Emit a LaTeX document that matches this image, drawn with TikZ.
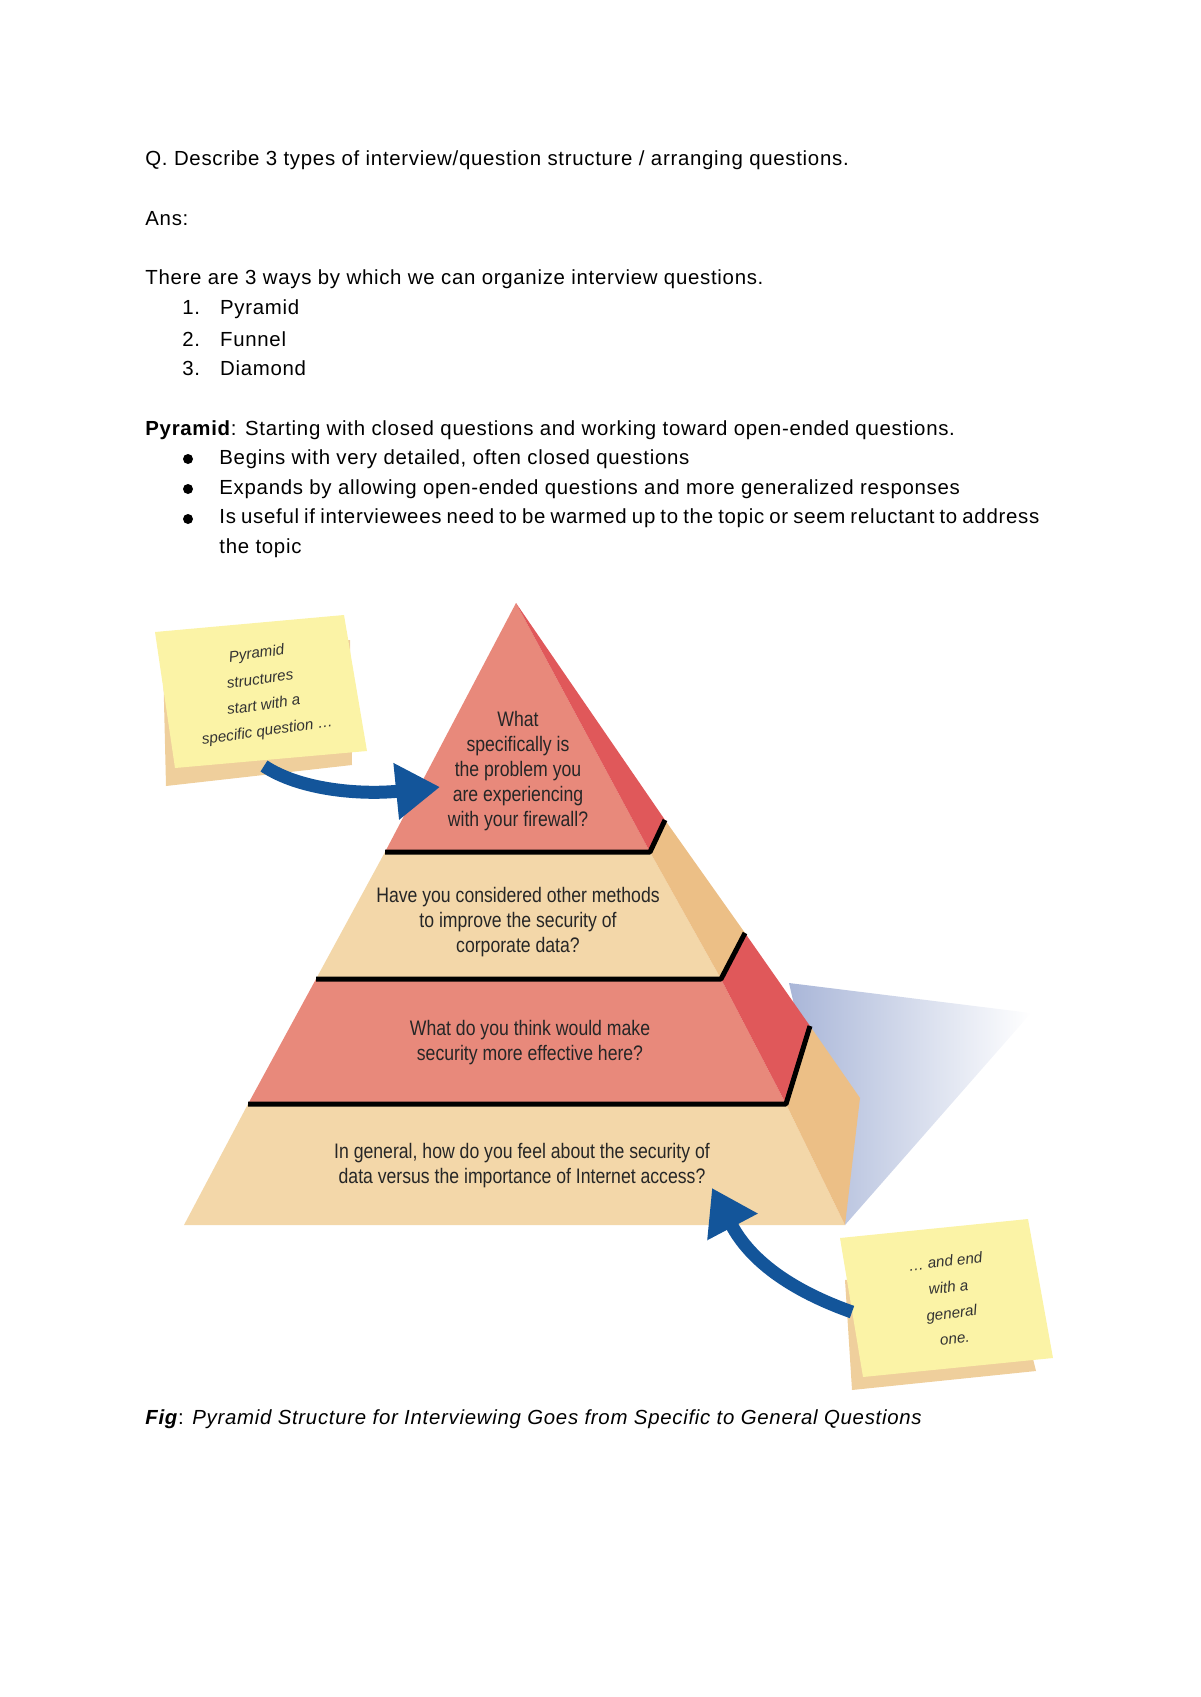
\documentclass[tikz,border=0pt]{standalone}
\usepackage{fontspec}
\setmainfont{Liberation Sans}[LetterSpace=3.5]
\newfontfamily\layerfont{Liberation Sans}
\usepackage{graphicx}
\usetikzlibrary{positioning,arrows.meta}
\definecolor{salmon}{HTML}{E8897B}
\definecolor{salmonside}{HTML}{E0585A}
\definecolor{sand}{HTML}{F3D7A9}
\definecolor{sandside}{HTML}{ECBF86}
\definecolor{notey}{HTML}{FBF3A6}
\definecolor{noteshadow}{HTML}{EFCF9C}
\definecolor{arrowblue}{HTML}{13559A}
\definecolor{shadowblue}{HTML}{A9B6D8}
\newcommand\cond[1]{\scalebox{0.84}[1]{\begin{tabular}{@{}c@{}}#1\end{tabular}}}
\begin{document}
\begin{tikzpicture}[
    x=0.5pt, y=-0.5pt,
    body/.style={anchor=west, inner sep=0pt, font=\fontsize{10.2}{12}\selectfont},
    layer/.style={font=\layerfont\fontsize{10.5}{12.5}\selectfont, text=black!85, inner sep=0pt},
    hand/.style={font=\layerfont\itshape\fontsize{7.6}{13}\selectfont, align=center, text=black!80},
    ledge/.style={line width=2.5pt, line join=round},
    bluearr/.style={draw=arrowblue, line width=6.5pt,
      -{Triangle[length=22pt, width=27pt]}}
  ]
    \useasboundingbox (0,0) rectangle (1200,1697);

    % ── Question text ─────────────────────────────────────────
    \node[body] (q)    at (145,160) {Q. Describe 3 types of interview/question structure / arranging questions.};
    \node[body] (ans)  at (145,219) {Ans:};
    \node[body] (ways) at (145,279) {There are 3 ways by which we can organize interview questions.};
    \node[body] (n1)   at (182,309) {1.\hspace{10pt}Pyramid};
    \node[body] (n2)   at (182,339) {2.\hspace{10pt}Funnel};
    \node[body] (n3)   at (182,368) {3.\hspace{10pt}Diamond};
    \node[body] (pyr)  at (145,430) {\textbf{Pyramid}: Starting with closed questions and working toward open-ended questions.};
    \foreach \y/\t [count=\i] in {459/{Begins with very detailed, often closed questions},
        489/{Expands by allowing open-ended questions and more generalized responses}}{
      \node[body] (b\i) at (219,\y) {\t};
      \fill (188,\y) circle (5);
    }
    \fill (188,519) circle (5);
    \node[body, anchor=north west] (b3) at (219,508)
      {\parbox{410pt}{\fontsize{10.2}{15}\selectfont Is useful if interviewees need to be warmed up to the topic or seem reluctant to address the topic}};

    % ── Shadow behind pyramid ────────────────────────────────
    \shade[left color=shadowblue, right color=white]
      (789,983) -- (1031,1013) -- (845,1225) -- cycle;

    % ── Pyramid layers (front, then side) ────────────────────
    \fill[sand]       (184,1225) -- (845,1225) -- (786,1104) -- (248,1104) -- cycle;
    \fill[sandside]   (845,1225) -- (860,1098) -- (810,1026) -- (786,1104) -- cycle;
    \fill[salmon]     (248,1104) -- (786,1104) -- (721,979) -- (316,979) -- cycle;
    \fill[salmonside] (786,1104) -- (810,1026) -- (745,933) -- (721,979) -- cycle;
    \fill[sand]       (316,979) -- (721,979) -- (650,852) -- (385,852) -- cycle;
    \fill[sandside]   (721,979) -- (745,933) -- (665,820) -- (650,852) -- cycle;
    \fill[salmon]     (385,852) -- (650,852) -- (516,603) -- cycle;
    \fill[salmonside] (650,852) -- (665,820) -- (516,603) -- cycle;

    \draw[ledge] (385,852) -- (650,852) -- (665,820);
    \draw[ledge] (316,979) -- (721,979) -- (745,933);
    \draw[ledge] (248,1104) -- (786,1104) -- (810,1026);

    % ── Layer questions ──────────────────────────────────────
    \node[layer] (q1) at (518,771) {\cond{What\\specifically is\\the problem you\\are experiencing\\with your firewall?}};
    \node[layer] (q2) at (518,922) {\cond{Have you considered other methods\\to improve the security of\\corporate data?}};
    \node[layer] (q3) at (530,1043) {\cond{What do you think would make\\security more effective here?}};
    \node[layer] (q4) at (522,1166) {\cond{In general, how do you feel about the security of\\data versus the importance of Internet access?}};

    % ── Sticky notes ─────────────────────────────────────────
    \fill[noteshadow] (163,660) -- (350,640) -- (352,765) -- (166,786) -- cycle;
    \fill[notey] (155,632) -- (344,615) -- (367,751) -- (175,768) -- cycle;
    \node[hand, rotate=8] (note1) at (262,693) {Pyramid\\structures\\start with a\\specific question \dots};

    \fill[noteshadow] (845,1280) -- (1010,1265) -- (1036,1371) -- (852,1390) -- cycle;
    \fill[notey] (840,1238) -- (1028,1219) -- (1053,1358) -- (863,1377) -- cycle;
    \node[hand, rotate=7] (note2) at (950,1300) {\dots\ and end\\with a\\general\\one.};

    % ── Arrows from notes ────────────────────────────────────
    \coordinate (tip1) at (440,787);
    \coordinate (tip2) at (712,1188);
    \draw[bluearr] (264,766) .. controls (300,790) and (360,795) .. (tip1);
    \draw[bluearr] (852,1312) .. controls (790,1290) and (750,1260) .. (tip2);

    % ── Caption ──────────────────────────────────────────────
    \node[body] (cap) at (145,1419) {\textbf{\itshape Fig}: \itshape Pyramid Structure for Interviewing Goes from Specific to General Questions};
  \end{tikzpicture}
\end{document}
